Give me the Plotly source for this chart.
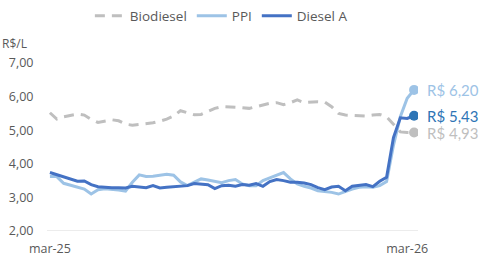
import plotly.graph_objects as go
import pandas as pd

dates = pd.date_range("2025-03-02", periods=54, freq="7D")

biodiesel = [5.52, 5.33, 5.40, 5.45, 5.48, 5.45, 5.32, 5.23, 5.28, 5.31,
             5.28, 5.18, 5.15, 5.17, 5.19, 5.22, 5.27, 5.33, 5.42, 5.58,
             5.52, 5.46, 5.47, 5.55, 5.65, 5.70, 5.70, 5.68, 5.67, 5.65,
             5.70, 5.76, 5.80, 5.82, 5.76, 5.82, 5.90, 5.82, 5.84, 5.85,
             5.84, 5.70, 5.50, 5.45, 5.44, 5.42, 5.42, 5.45, 5.47, 5.40,
             5.18, 4.95, 4.93, 4.93]

ppi = [3.62, 3.62, 3.42, 3.36, 3.32, 3.25, 3.10, 3.23, 3.26, 3.25,
       3.22, 3.19, 3.45, 3.67, 3.62, 3.63, 3.66, 3.69, 3.66, 3.46,
       3.35, 3.45, 3.55, 3.52, 3.48, 3.44, 3.50, 3.53, 3.40, 3.35,
       3.35, 3.50, 3.58, 3.66, 3.74, 3.55, 3.40, 3.33, 3.28, 3.20,
       3.18, 3.15, 3.10, 3.18, 3.25, 3.30, 3.32, 3.30, 3.35, 3.47,
       4.55, 5.40, 5.95, 6.20]

diesel_a = [3.74, 3.67, 3.61, 3.53, 3.48, 3.49, 3.38, 3.32, 3.30, 3.29,
            3.29, 3.28, 3.33, 3.31, 3.29, 3.35, 3.28, 3.30, 3.31, 3.33,
            3.35, 3.41, 3.40, 3.38, 3.26, 3.35, 3.36, 3.33, 3.38, 3.36,
            3.41, 3.33, 3.47, 3.53, 3.50, 3.45, 3.45, 3.43, 3.38, 3.29,
            3.23, 3.31, 3.33, 3.20, 3.33, 3.35, 3.38, 3.32, 3.48, 3.60,
            4.78, 5.37, 5.35, 5.43]

series_names = ["Biodiesel", "PPI", "Diesel A"]
end_labels = ["R$ 4,93", "R$ 6,20", "R$ 5,43"]
x_tick_vals = ["2025-03-02", "2026-03-01"]
x_tick_text = ["mar-25", "mar-26"]
y_tick_vals = [2, 3, 4, 5, 6, 7]
y_tick_text = ["2,00", "3,00", "4,00", "5,00", "6,00", "7,00"]

FONT = "Open Sans"
TXT = "#595959"
colors = ["#BFBFBF", "#9DC3E6", "#4472C4"]
marker_colors = ["#BFBFBF", "#9DC3E6", "#2E75B6"]
dashes = ["10px,7px", "solid", "solid"]
all_vals = [biodiesel, ppi, diesel_a]

fig = go.Figure()
for name, vals, c, d in zip(series_names, all_vals, colors, dashes):
    fig.add_trace(go.Scatter(x=dates, y=vals, mode="lines", name=name,
                             line=dict(color=c, width=3, dash=d)))
for name, vals, mc, lab in zip(series_names, all_vals, marker_colors, end_labels):
    fig.add_trace(go.Scatter(x=[dates[-1]], y=[vals[-1]], mode="markers",
                             marker=dict(color=mc, size=10), showlegend=False,
                             hoverinfo="skip"))
    fig.add_annotation(x=dates[-1], y=vals[-1], text=lab, showarrow=False,
                       xanchor="left", yanchor="middle", xshift=11,
                       font=dict(family="Lato", size=15, color=mc))

fig.add_annotation(xref="paper", yref="paper", x=-47/371, y=(231-43)/168,
                   text="R$/L", showarrow=False, xanchor="left", yanchor="middle",
                   font=dict(family=FONT, size=12, color=TXT))

fig.update_layout(
    width=481, height=256,
    margin=dict(l=47, r=63, t=63, b=25, autoexpand=False),
    paper_bgcolor="white", plot_bgcolor="white",
    font=dict(family=FONT, size=12.5, color=TXT),
    showlegend=True,
    legend=dict(orientation="h", x=0.47, xanchor="center", y=1.0 + 47/168,
                yanchor="middle", font=dict(family=FONT, size=13.5, color=TXT),
                itemwidth=30, tracegroupgap=0),
)
fig.update_xaxes(range=["2025-02-27", "2026-03-12"], tickmode="array",
                 tickvals=x_tick_vals, ticktext=x_tick_text, showgrid=False,
                 showline=False, zeroline=False, ticks="outside", ticklen=6,
                 tickcolor="rgba(0,0,0,0)", tickfont=dict(size=12.5, color=TXT),
                 automargin=False)
fig.update_yaxes(range=[2, 7], tickmode="array", tickvals=y_tick_vals,
                 ticktext=y_tick_text, showgrid=False, zeroline=False,
                 showline=False, ticks="outside", ticklen=10,
                 tickcolor="rgba(0,0,0,0)", tickfont=dict(size=12.5, color=TXT),
                 automargin=False)
fig.add_hline(y=2, line=dict(color="#D9D9D9", width=1.2), layer="below")

fig.write_html("out.html", config={"displayModeBar": False},
               post_script="document.body.style.margin='0';document.body.style.overflow='hidden';")
